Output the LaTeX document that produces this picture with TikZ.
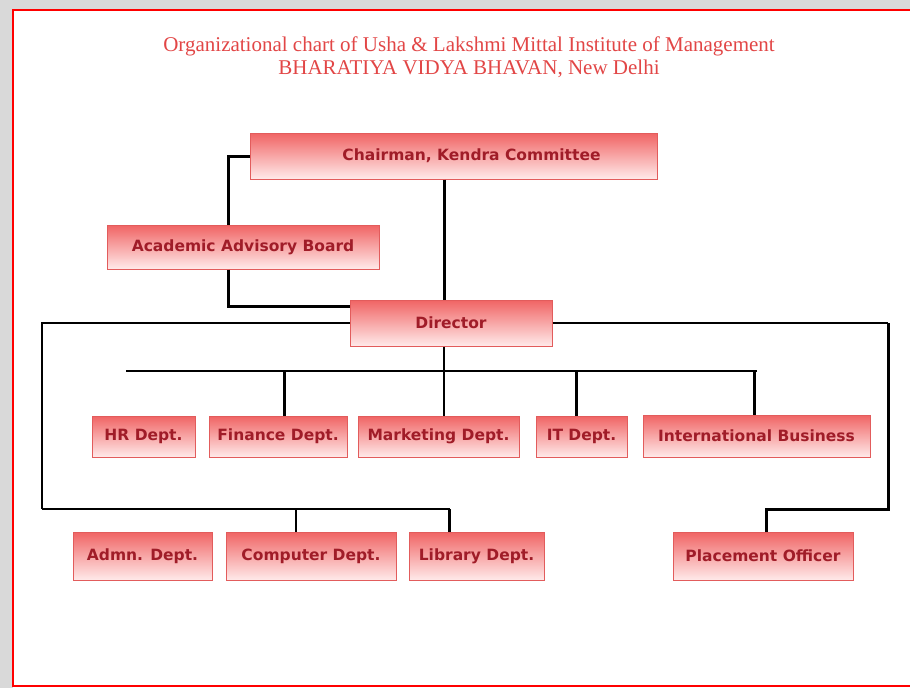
\documentclass[tikz,border=0pt]{standalone}
\usepackage{fontspec}
\setmainfont{Liberation Serif}
\newfontfamily\boxfont{DejaVu Sans}
\definecolor{boxtop}{RGB}{240,100,100}
\definecolor{boxbottom}{RGB}{255,234,234}
\definecolor{boxline}{RGB}{226,92,92}
\definecolor{boxtext}{RGB}{160,28,40}
\definecolor{titlered}{RGB}{226,70,70}
\definecolor{framered}{RGB}{255,0,0}
\tikzset{
    unit/.style={draw=boxline, line width=1pt, top color=boxtop,
        bottom color=boxbottom, text=boxtext,
        font=\boxfont\bfseries\fontsize{15.5}{17}\selectfont, inner sep=0pt},
    thinline/.style={line width=1.3pt},
    midline/.style={line width=2pt},
    thickline/.style={line width=3pt}
}

\begin{document}
\begin{tikzpicture}[x=1pt,y=-1pt]
                \useasboundingbox (0,0) rectangle (910,688);
                
                % Page shadow and frame
                \fill[gray!30] (0,0) rectangle (910,10);
                \fill[gray!30] (0,0) rectangle (13,688);
                \fill[white] (13,10) rectangle (910,686);
                \draw[framered, line width=2pt] (910,10) -- (13,10) -- (13,686) -- (910,686);
                
                % Title
                \node[text=titlered, align=center, font=\fontsize{21}{23}\selectfont] (title) at (469,57)
                    {Organizational chart of Usha \& Lakshmi Mittal Institute of Management\\
                     BHARATIYA VIDYA BHAVAN, New Delhi};
                
                % Top of the chart
                \node[unit, minimum width=407pt, minimum height=46pt] (chair) at (453.5,156) {\hspace*{36pt}Chairman, Kendra Committee};
                \node[unit, minimum width=272pt, minimum height=44pt] (board) at (243,247) {Academic Advisory Board};
                \node[unit, minimum width=202pt, minimum height=46pt] (director) at (451,323) {Director};
                
                % Departments
                \node[unit, minimum width=103pt, minimum height=41pt] (hr) at (143.5,436.5) {HR Dept.};
                \node[unit, minimum width=138pt, minimum height=41pt] (finance) at (278,436.5) {Finance Dept.};
                \node[unit, minimum width=161pt, minimum height=41pt] (marketing) at (438.5,436.5) {Marketing Dept.};
                \node[unit, minimum width=91pt, minimum height=41pt] (it) at (581.5,436.5) {IT Dept.};
                \node[unit, minimum width=227pt, minimum height=42pt] (intl) at (756.5,436) {International Business};
                
                % Bottom row
                \node[unit, minimum width=139pt, minimum height=48pt] (admn) at (142.5,556) {Admn. Dept.};
                \node[unit, minimum width=170pt, minimum height=48pt] (computer) at (311,556) {Computer Dept.};
                \node[unit, minimum width=135pt, minimum height=48pt] (library) at (476.5,556) {Library Dept.};
                \node[unit, minimum width=180pt, minimum height=48pt] (placement) at (763,556) {Placement Officer};
                
                \coordinate (spine) at (444,0);
                \coordinate (busleft) at (126,371);
                \coordinate (leftcorner) at (42,509);
                \coordinate (rightcorner) at (888,509);
                \coordinate (compdrop) at ([xshift=-15pt]computer.north);
                \coordinate (libdrop) at ([xshift=-27pt]library.north);
                
                % Chairman, board and director
                \draw[thickline] (chair.west) -| ([xshift=-15pt]board.north);
                \draw[thickline] ([xshift=-15pt]board.south) |- ([yshift=17pt]director.west);
                \draw[thickline] (chair.south -| spine) -- (director.north -| spine);
                
                % Department bus
                \draw[thinline] (director.south -| spine) -- (marketing.north -| spine);
                \draw[midline] (busleft) -- (busleft -| intl.north);
                \foreach \dept/\shift in {finance/6, it/-5.5, intl/-2.5}
                    \draw[thickline] ([xshift=\shift pt]\dept.north |- busleft) -- ([xshift=\shift pt]\dept.north);
                
                % Left branch
                \draw[thinline] (director.west) -| (leftcorner);
                \draw[midline] (leftcorner) -- (libdrop |- leftcorner);
                \draw[thickline] (libdrop |- leftcorner) -- (libdrop);
                \draw[thinline] (compdrop |- leftcorner) -- (compdrop);
                
                % Right branch
                \draw[thinline] (director.east) -- (director.east -| rightcorner);
                \draw[thickline] (director.east -| rightcorner) -- (rightcorner) -| ([xshift=3pt]placement.north);
            \end{tikzpicture}
\end{document}
